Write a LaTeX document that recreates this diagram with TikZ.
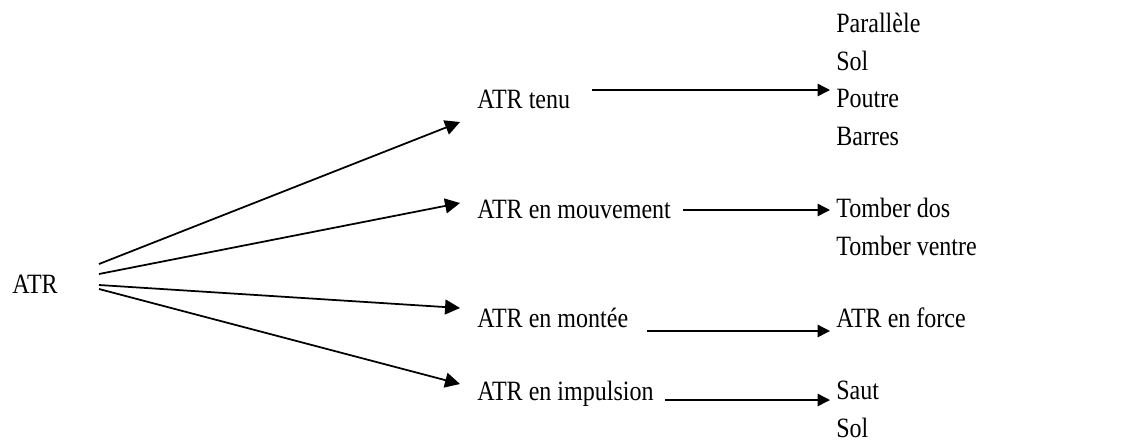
\documentclass[tikz,border=0pt]{standalone}
\usepackage{fontspec}
\setmainfont{Liberation Serif}[FakeStretch=0.86]
\usetikzlibrary{arrows.meta}
\tikzset{>={Triangle[length=8.5pt,width=8.5pt]}}
\tikzset{lbl/.style={anchor=base west, inner sep=0pt, font=\fontsize{15.9}{21.3}\selectfont}}
\tikzset{lst/.style={lbl, align=left}}
\tikzset{fl/.style={->, line width=1pt}}
\tikzset{fr/.style={-{Triangle[length=7pt,width=7pt]}, line width=0.8pt}}

\begin{document}
\begin{tikzpicture}

    \useasboundingbox (0,0) rectangle (22.94,-8.82);

    % root
    \node[lbl] (atr) at (0.24,-5.86) {ATR};

    % middle column
    \node[lbl] (tenu)   at (9.54,-2.16) {ATR tenu};
    \node[lbl] (mouv)   at (9.54,-4.36) {ATR en mouvement};
    \node[lbl] (montee) at (9.54,-6.54) {ATR en mont\'ee};
    \node[lbl] (impuls) at (9.54,-8.00) {ATR en impulsion};

    % right column (base = last line)
    \node[lst] (tenuR)   at (16.72,-2.90) {Parall\`ele\\Sol\\Poutre\\Barres};
    \node[lst] (mouvR)   at (16.72,-5.10) {Tomber dos\\Tomber ventre};
    \node[lbl] (monteeR) at (16.72,-6.54) {ATR en force};
    \node[lst] (impulsR) at (16.72,-8.74) {Saut\\Sol};

    % arrow ends
    \coordinate (a1) at (1.98,-5.28);
    \coordinate (a2) at (1.98,-5.48);
    \coordinate (a3) at (1.98,-5.70);
    \coordinate (a4) at (1.98,-5.78);
    \coordinate (b1) at (9.2,-2.44);
    \coordinate (b2) at (9.2,-4.06);
    \coordinate (b3) at (9.2,-6.16);
    \coordinate (b4) at (9.2,-7.68);

    \draw[fl] (a1) -- (b1);
    \draw[fl] (a2) -- (b2);
    \draw[fl] (a3) -- (b3);
    \draw[fl] (a4) -- (b4);

    \coordinate (c1) at (11.84,-1.80);
    \coordinate (c2) at (13.66,-4.20);
    \coordinate (c3) at (12.94,-6.62);
    \coordinate (c4) at (13.30,-8.00);
    \coordinate (d1) at (16.60,-1.80);
    \coordinate (d2) at (16.60,-4.20);
    \coordinate (d3) at (16.60,-6.62);
    \coordinate (d4) at (16.60,-8.00);

    \draw[fr] (c1) -- (d1);
    \draw[fr] (c2) -- (d2);
    \draw[fr] (c3) -- (d3);
    \draw[fr] (c4) -- (d4);

\end{tikzpicture}
\end{document}
